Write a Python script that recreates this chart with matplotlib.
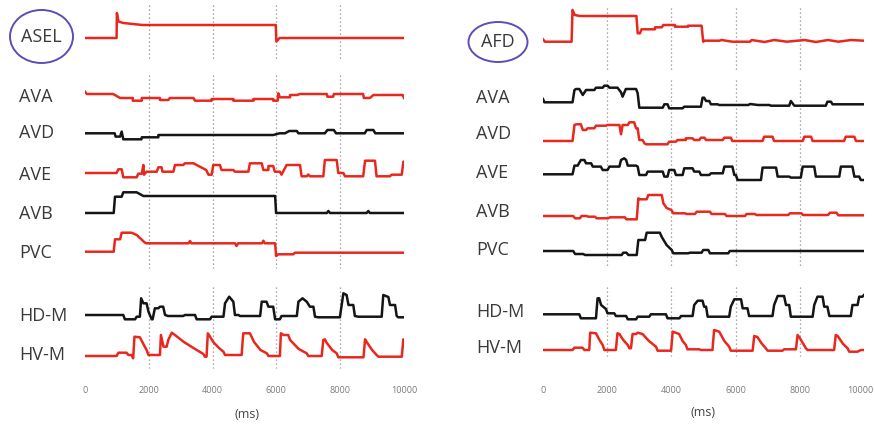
import numpy as np
import matplotlib.pyplot as plt
from matplotlib.patches import Ellipse
from matplotlib.transforms import ScaledTranslation

# Réponses calciques des neurones (temps en ms, signal en unités arbitraires)

W, H = 875, 425
RED = '#e8281e'
BLACK = '#151515'
TXT = '#3a3a3a'

ticks = [0, 2000, 4000, 6000, 8000, 10000]
marks = [2000, 4000, 6000, 8000]

# ---------------- panneau gauche : ASEL ----------------
asel_t = [0, 990, 1000, 1050, 1200, 1800, 5980, 6000, 6100, 10000]
asel_v = [0, 0, 25, 16.5, 15, 13, 13, -3.5, 0, 0]

l_ava_t = [0, 60, 880, 1100, 1500, 1500, 1780, 1780, 2350, 2350, 2610, 2660, 3400, 3450, 3970, 3970,
           4650, 4650, 5280, 5280, 5900, 5900, 6040, 6060, 6110, 6430, 6430, 6640, 6740, 7580, 7600,
           7780, 7800, 8720, 8740, 8930, 9040, 9960, 10000]
l_ava_v = [6.3, 4, 4, 0, 0, -2.7, -2.7, 0, 0, -2, -2, 0, 0, -2.7, -2.7, -1,
           -1, -2.7, -2.7, -1, -1, -2.7, -2.7, 4.7, 0.7, 0.7, 3, 3, 4, 4, 1.3,
           1.3, 4, 4, 0, 0, 3, 3, 0]

l_avd_t = [0, 930, 960, 1100, 1150, 1200, 1770, 1780, 2300, 2300, 5900, 6100, 6270, 6400, 6640, 6690,
           7520, 7600, 7800, 7870, 8770, 8830, 9040, 9100, 10000]
l_avd_v = [0, 0, -3.3, -3.3, 1.7, -6, -6, -4, -4, -1.7, -1.7, 0, 0, 2.3, 2.3, 0,
           0, 3.3, 3.3, 0, 0, 3.3, 3.3, 0, 0]

l_ave_t = [0, 990, 1045, 1150, 1200, 1620, 1670, 1780, 1830, 1850, 1930, 2250, 2300, 2400, 2430, 2770,
           2820, 3080, 3130, 3400, 3800, 3870, 3970, 4020, 4230, 4280, 4650, 4700, 5120, 5170, 5540,
           5590, 5750, 5750, 5900, 5950, 6110, 6160, 6320, 6740, 6790, 6950, 7000, 7050, 7470, 7520,
           7890, 7940, 8100, 8150, 8720, 8780, 9090, 9140, 9560, 9610, 9930, 9980, 10000]
l_ave_v = [0, 0, 3.7, 3.7, -4.3, -4.3, -0.7, -0.7, 8, -1.7, 1.3, 1.3, 5.7, 5.7, 1.3, 1.3,
           8, 8, 9.7, 9.7, 3, -1.7, -1.7, 8, 8, 3, 3, 1.3, 1.3, 9.7, 9.7,
           3, 3, 7, 7, 1.3, 1.3, -1.7, 8, 8, -3.3, -3.3, -1.5, -3.3, -3.3, 13,
           13, 0, 0, -3.3, -3.3, 12.3, 12.3, -3.3, -3.3, -1.7, -1.7, 11.3, 11.3]

l_avb_t = [0, 900, 940, 1150, 1200, 1620, 1830, 5960, 5990, 7580, 7630, 7680, 8830, 8880, 8930, 10000]
l_avb_v = [0, 0, 16.3, 16.3, 20.7, 20.7, 17, 17, 0, 0, 2, 0, 0, 2, 0, 0]

l_pvc_t = [0, 900, 940, 1100, 1150, 1460, 1620, 1880, 1930, 3250, 3290, 3340, 4700, 4750, 4800, 5550,
           5590, 5640, 5960, 5990, 6060, 6530, 6580, 10000]
l_pvc_v = [0.3, 0.3, 12.7, 12.7, 19.3, 19.3, 17, 9.3, 8.7, 8.7, 11, 8.7, 8.7, 6, 8.7, 8.7,
           11.3, 8.7, 8.7, -4, -2.3, -2.3, -0.7, -0.7]

l_hdm_t = [0, 1200, 1250, 1570, 1620, 1720, 1760, 1830, 1930, 1990, 2090, 2120, 2190, 2300, 2350, 2450,
           2510, 2610, 3080, 3130, 3450, 3500, 3920, 3970, 4340, 4390, 4520, 4650, 4700, 4810, 4860,
           5490, 5540, 5690, 5750, 5900, 5960, 6110, 6160, 6640, 6690, 6820, 6950, 7050, 7160, 7210,
           7310, 7990, 8100, 8200, 8260, 8410, 8460, 8570, 9300, 9350, 9510, 9560, 9720, 9770, 9820,
           10000]
l_hdm_v = [1, 1, -3.3, -3.3, -0.7, -0.7, 17.7, 12.7, 12.7, 4.3, -3.3, -3.3, 7.7, 7.7, 9.3, 9.3,
           1, 0, 0, 1, 1, -3.3, -3.3, -0.7, -0.7, 12.7, 19.3, 14.3, 1, 1, 0,
           0, 14.3, 14.3, 9.3, 9.3, -3.3, -3.3, 0, 0, 14.3, 17.7, 14.3, 9.3, 9.3, -0.7,
           -1.3, -1.3, 22.7, 21, 11, 11, 0, -0.7, -0.7, 21, 19, 11, 11, 0, -1.3,
           -1.3]

l_hvm_t = [0, 990, 1050, 1300, 1360, 1460, 1510, 1550, 1720, 1830, 1930, 1990, 2350, 2380, 2460, 2560,
           2610, 2720, 2820, 3100, 3400, 3710, 3760, 3810, 3850, 3920, 4020, 4200, 4340, 4390, 4910,
           4960, 5170, 5300, 5500, 5700, 5750, 6110, 6140, 6220, 6370, 6430, 6700, 6950, 7000, 7420,
           7470, 7520, 7580, 7750, 7890, 7940, 8730, 8780, 8830, 9000, 9140, 9200, 9930, 9980, 10000]
l_hvm_v = [0, 0, 3.3, 3.3, 1, 1, -2.3, 19.3, 18.7, 12, 6, 1, 1, 21, 9.3, 9.3,
           16, 23.3, 21, 14, 8, 2, -0.7, -0.7, 22.7, 19.3, 14, 8, 4.3, 1, 1,
           22.7, 22.7, 14, 6, 2.7, 0, 0, 22.7, 21, 21, 16, 7, 2.7, 0, 0,
           16, 16.7, 13, 6, 2.7, -1.3, -1.3, 16.7, 14, 6, 1, -0.7, -0.7, 16.7, 10]

# ---------------- panneau droit : AFD ----------------
afd_t = [0, 60, 890, 920, 990, 1150, 2910, 2950, 3020, 3070, 3490, 3490, 3700, 3750, 4110, 4110,
         4520, 4520, 4940, 4990, 5040, 5500, 5560, 5900, 6450, 6500, 6900, 7200, 7600, 8150, 8500,
         8880, 9200, 9600, 10000]
afd_v = [2.7, 0.3, 0.3, 32, 27, 26, 26, 8.7, 8.7, 12.7, 12.7, 14.7, 14.7, 17, 17, 15.3,
         15.3, 16.3, 16.3, 0.3, 1.3, 1.3, 2, 0.3, 0.3, 2, 0, 2, 0.3, 2, 0,
         2, 0.3, 2, 1.3]

r_ava_t = [0, 40, 920, 980, 1030, 1130, 1240, 1340, 1600, 1650, 1860, 1910, 2010, 2070, 2320, 2430,
           2480, 2580, 2900, 2950, 3000, 3730, 3780, 3880, 3930, 4350, 4400, 4920, 4970, 5020, 5080,
           5180, 5230, 5440, 5490, 6400, 6450, 6700, 7050, 7100, 7670, 7720, 7830, 8810, 8860, 8970,
           9020, 10000]
r_ava_v = [3, -0.3, -0.3, 12, 13, 13, 7, 12, 12, 14.3, 14.3, 16.3, 16.3, 14.3, 14.3, 9.7,
           5.3, 13, 13, 8.7, -5.7, -5.7, -2.3, -2.3, -6.3, -6.3, -4.7, -4.7, 4.3, 4.3, 1,
           1, -2.3, -2.3, -3, -3, -2, -3, -3, -3.7, -3.7, 1, -3.7, -3.7, 0.3, 0.3,
           -2.3, -2.3]

r_avd_t = [0, 920, 980, 1030, 1180, 1240, 1340, 1390, 1600, 1650, 1960, 2010, 2380, 2430, 2480, 2640,
           2690, 2840, 2900, 2950, 3000, 3100, 3160, 3210, 3880, 3930, 4140, 4190, 4450, 4450, 4660,
           4710, 4870, 4920, 5030, 5080, 5600, 5650, 5850, 5900, 6840, 6890, 7150, 7200, 8090, 8140,
           8350, 8400, 9380, 9430, 9700, 9750, 10000]
r_avd_v = [0, 0, 16, 16.7, 16.7, 11, 11, 12.7, 12.7, 15.3, 15.3, 16, 16, 6.7, 16, 16,
           18.7, 18.7, 12.7, 12.7, 1, 1, -2.3, -3.3, -3.3, -0.7, -0.7, 1, 1, 2.7, 2.7,
           1, 1, 3.3, 3.3, 1, 1, 3.3, 3.3, 0, 0, 4.3, 4.3, 0, 0, 4.3,
           4.3, 0, 0, 4.3, 4.3, 0, 0]

r_ave_t = [0, 920, 980, 1080, 1180, 1290, 1340, 1500, 1550, 1800, 1860, 2010, 2070, 2380, 2430, 2530,
           2590, 2640, 2900, 2950, 3000, 3210, 3260, 3730, 3780, 3880, 3930, 4090, 4140, 4350, 4400,
           4660, 4710, 4870, 4920, 5180, 5230, 5600, 5650, 5900, 5960, 6010, 6060, 6790, 6840, 7260,
           7310, 7670, 7720, 8030, 8090, 8450, 8500, 9230, 9280, 9640, 9700, 9850, 9900, 10000]
r_ave_v = [0, 0, 8.7, 8.7, 14.3, 14.3, 11, 11, 7.7, 7.7, 4.3, 4.3, 7.7, 7.7, 14.3, 16,
           14.3, 8.7, 8.7, 7.7, -0.7, -0.7, 2.7, 2.7, -2.3, -2.3, 4.3, 4.3, -0.7, -0.7, 6,
           6, 2.7, 2.7, -0.7, -0.7, 1, 1, 7.7, 7.7, -0.7, -0.7, -5.7, -5.7, 6.7, 6.7,
           -2.3, -2.3, -3.3, -3.3, 7.7, 7.7, -2.3, -2.3, 7.7, 7.7, -2.3, -2.3, -5.7, -5.7]

r_avb_t = [0, 940, 1000, 1150, 1200, 1360, 1410, 1620, 1670, 2030, 2090, 2550, 2600, 2920, 2970, 3020,
           3230, 3280, 3700, 3750, 3850, 4000, 4060, 4420, 4470, 4730, 4790, 5200, 5250, 5670, 5720,
           6290, 6340, 6600, 6650, 7640, 7690, 8050, 8100, 8880, 8940, 9140, 9200, 10000]
r_avb_v = [0, 0, -2.3, -2.3, 0, 0, -0.7, -0.7, -2.3, -2.3, -1.3, -1.3, -3.3, -3.3, 17.7, 16.7,
           16.7, 21, 21, 12.7, 8, 6, 2.7, 2.7, 2, 2, 4.3, 4.3, 2, 2, 0,
           0, 2, 2, 1, 1, 2.7, 2.7, 1, 1, 3.3, 3.3, 0.7, 0.7]

r_pvc_t = [0, 940, 1000, 1250, 1310, 2450, 2500, 2600, 2660, 2920, 2970, 3180, 3230, 3640, 3700, 3850,
           4010, 4060, 4520, 4580, 4940, 4990, 5150, 5200, 5770, 5820, 10000]
r_pvc_v = [0, 0, -3, -3, -4, -4, -1.7, -1.7, -4, -4, 11, 11, 18.3, 18.3, 14, 6,
           1, -2.3, -2.3, -1.7, -1.7, 1, 1, -2.3, -2.3, 0, 0]

r_hdm_t = [0, 1130, 1180, 1650, 1700, 1750, 1810, 1960, 2010, 2220, 2270, 2590, 2640, 2900, 2950, 3310,
           3360, 3830, 3880, 4250, 4300, 4660, 4710, 4820, 4970, 5020, 5080, 5130, 5800, 5850, 5960,
           6170, 6220, 6370, 6420, 7150, 7200, 7310, 7510, 7570, 7670, 7720, 8400, 8450, 8550, 8710,
           8760, 8860, 8920, 9590, 9640, 9800, 9850, 9950, 10000]
r_hdm_v = [0.7, 0.7, -3.3, -3.3, 16.7, 16.7, 10, 6, 1.7, 1.7, -1, -1, -4.3, -4.3, -1.7, -1.7,
           0.7, 0.7, -3.3, -3.3, -1, -1, 10, 14.3, 14.3, 8.3, 8.3, -1.7, -1.7, 8.3, 15.7,
           15.7, 6.7, 6.7, -1, -1, 10, 19, 19, 10, 10, -1.7, -1.7, 10, 18.3, 18.3,
           8.3, 8.3, -1, -1, 10, 10, 18.3, 18.3, 20]

r_hvm_t = [0, 920, 980, 1230, 1290, 1440, 1470, 1650, 1760, 1860, 1910, 2270, 2320, 2380, 2500, 2640,
           2690, 2740, 2790, 2900, 2950, 3100, 3300, 3520, 3570, 3990, 4040, 4240, 4350, 4450, 4500,
           4870, 4920, 5280, 5330, 5490, 5650, 5800, 5850, 6530, 6580, 6680, 6800, 6940, 7000, 7460,
           7510, 7880, 7930, 8000, 8190, 8240, 9070, 9120, 9180, 9350, 9490, 9540, 9800, 9900, 10000]
r_hvm_v = [0, 0, 2.3, 2.3, 0, 0, 17.3, 16.7, 10, 5, 0, 0, 16.7, 16, 10, 5,
           1.7, 1.7, 16, 16, 17.3, 16, 9, 3.3, -0.7, -0.7, 18.3, 16, 9, 5, 0.7,
           0.7, 0, 0, 20, 18.3, 9, 3.3, -0.7, -0.7, 14, 13, 7, 1.7, -0.7, -0.7,
           0.7, 0.7, 15, 12, 1.7, 0, 0, 15, 14, 6, 1.7, -1.7, -1.7, 0, 0]

names = ['AVA', 'AVD', 'AVE', 'AVB', 'PVC', 'HD-M', 'HV-M']

# mise en page : ligne de base (px) de chaque trace et de son étiquette
left_rows = [38, 98, 133.3, 173, 213, 252, 316, 356]
left_label_rows = [97, 133, 175, 214, 253, 316, 355]
right_rows = [42, 102, 141, 174.3, 216, 251, 315, 350]
right_label_rows = [98, 134, 173, 212, 250, 312, 348]

left_traces = [(asel_t, asel_v, RED), (l_ava_t, l_ava_v, RED), (l_avd_t, l_avd_v, BLACK),
               (l_ave_t, l_ave_v, RED), (l_avb_t, l_avb_v, BLACK), (l_pvc_t, l_pvc_v, RED),
               (l_hdm_t, l_hdm_v, BLACK), (l_hvm_t, l_hvm_v, RED)]
right_traces = [(afd_t, afd_v, RED), (r_ava_t, r_ava_v, BLACK), (r_avd_t, r_avd_v, RED),
                (r_ave_t, r_ave_v, BLACK), (r_avb_t, r_avb_v, RED), (r_pvc_t, r_pvc_v, BLACK),
                (r_hdm_t, r_hdm_v, BLACK), (r_hvm_t, r_hvm_v, RED)]

plt.rcParams['font.family'] = ['Open Sans', 'DejaVu Sans']
fig = plt.figure(figsize=(W / 100, H / 100), dpi=100)


def fx(x):
    return x / W


def fy(y):
    return 1 - y / H


def panel(x0, x1, traces, rows, label_rows, label_x, dots, ell, title, ms_xy):
    ax = fig.add_axes([fx(x0), fy(380), fx(x1) - fx(x0), 380 / H])
    ax.set_xlim(0, 10000)
    ax.set_ylim(380, 0)
    for y0, y1 in dots:
        ax.vlines(marks, y0, y1, colors='#8c8c8c', linestyles=(0, (1, 2.2)), lw=0.9)
    for (t, v, c), row in zip(traces, rows):
        ax.plot(t, row - np.array(v), color=c, lw=1.8, solid_joinstyle='round')
    for name, r in zip(names, label_rows):
        fig.text(fx(label_x), fy(r), name, fontsize=13, color=TXT, ha='left', va='center')
    cx, cy, w, h = ell
    fig.add_artist(Ellipse((fx(cx), fy(cy)), w / W, h / H, transform=fig.transFigure,
                           fill=False, ec='#5a4fb8', lw=1.4))
    fig.text(fx(cx), fy(cy), title, fontsize=13, color=TXT, ha='center', va='center')
    fig.text(fx(ms_xy[0]), fy(ms_xy[1]), '(ms)', fontsize=9, color='#444444', ha='center', va='center')
    ax.set_xticks(ticks)
    ax.set_yticks([])
    ax.tick_params(length=0, labelsize=6.5, labelcolor='#7a7a7a', pad=4)
    for s in ax.spines.values():
        s.set_visible(False)
    ax.patch.set_visible(False)
    return ax


panel(85, 404, left_traces, left_rows, left_label_rows, 19,
      [(5, 60), (75, 268), (287, 368)], (41.5, 36.5, 63, 53), 'ASEL', (247, 415))
ax_r = panel(543, 864, right_traces, right_rows, right_label_rows, 476,
             [(8, 70), (80, 268), (287, 356)], (498, 42, 59, 40), 'AFD', (703, 412))

# le dernier libellé du panneau droit touche le bord : on le décale un peu
last = ax_r.get_xticklabels()[-1]
last.set_horizontalalignment('right')
last.set_transform(last.get_transform() + ScaledTranslation(9 / 100, 0, fig.dpi_scale_trans))

fig.savefig('out.png', dpi=100)
